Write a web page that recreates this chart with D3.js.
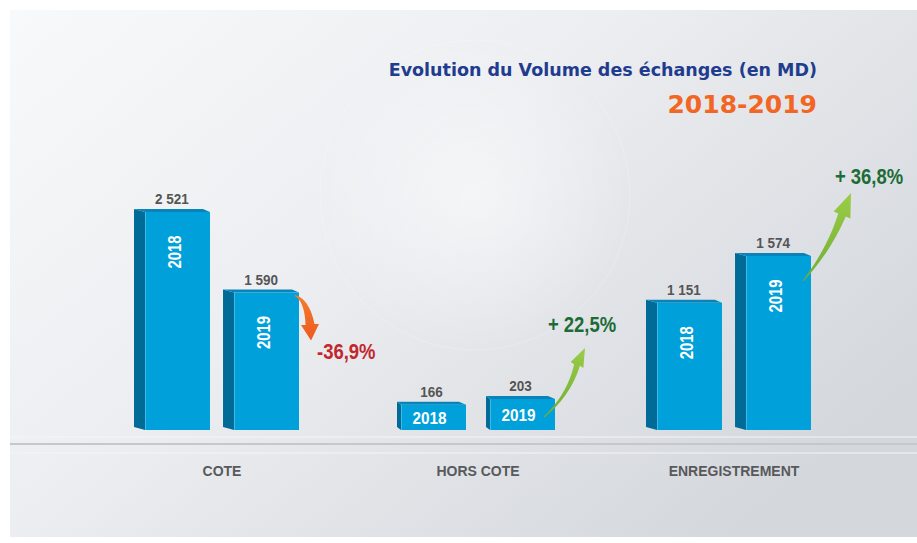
<!DOCTYPE html>
<html>
<head>
<meta charset="utf-8">
<script src="https://cdn.jsdelivr.net/npm/d3@7"></script>
<style>
  body { margin: 0; background: #ffffff; }
  svg { display: block; }
</style>
</head>
<body>
<div id="chart"></div>
<script>
// data
const categories = ["COTE", "HORS COTE", "ENREGISTREMENT"];
const years = ["2018", "2019"];
const volume2018 = [2521, 166, 1151];
const volume2019 = [1590, 203, 1574];
const changeLabels = ["-36,9%", "+ 22,5%", "+ 36,8%"];

const width = 917;
const height = 543;
const baseline = 430;
const groupHeights = [218, 31, 174];   // visual height of the tallest bar of each group
const depths = [11, 4, 11];            // width of the shaded side face
const tilt = 3;

const sans = "'Liberation Sans', Arial, sans-serif";
const wide = "'DejaVu Sans', Verdana, sans-serif";

const fr = d3.formatLocale({ decimal: ",", thousands: "\u00a0", grouping: [3], currency: ["", ""] });
const fmt = fr.format(",d");

const svg = d3.select("#chart")
  .append("svg")
  .attr("width", width)
  .attr("height", height)
  .attr("viewBox", `0 0 ${width} ${height}`);

const defs = svg.append("defs");

const bg = defs.append("linearGradient")
  .attr("id", "bg")
  .attr("x1", 0).attr("y1", 0).attr("x2", 1).attr("y2", 0.7);
bg.append("stop").attr("offset", 0).attr("stop-color", "#f8f9fa");
bg.append("stop").attr("offset", 0.45).attr("stop-color", "#eceef1");
bg.append("stop").attr("offset", 1).attr("stop-color", "#d4d7dc");

const glow = defs.append("radialGradient").attr("id", "glow");
glow.append("stop").attr("offset", 0).attr("stop-color", "#ffffff").attr("stop-opacity", 0.5);
glow.append("stop").attr("offset", 1).attr("stop-color", "#ffffff").attr("stop-opacity", 0);

const greenGrad = defs.append("linearGradient")
  .attr("id", "green")
  .attr("x1", 0).attr("y1", 1).attr("x2", 0).attr("y2", 0);
greenGrad.append("stop").attr("offset", 0).attr("stop-color", "#6fae34");
greenGrad.append("stop").attr("offset", 1).attr("stop-color", "#9ccc46");

const orangeGrad = defs.append("linearGradient")
  .attr("id", "orange")
  .attr("x1", 0).attr("y1", 0).attr("x2", 0).attr("y2", 1);
orangeGrad.append("stop").attr("offset", 0).attr("stop-color", "#f47c30");
orangeGrad.append("stop").attr("offset", 1).attr("stop-color", "#ec5a1f");

// background card
svg.append("rect")
  .attr("x", 10).attr("y", 10)
  .attr("width", width - 10).attr("height", 527)
  .attr("fill", "url(#bg)");

svg.append("circle")
  .attr("cx", 475).attr("cy", 195).attr("r", 155)
  .attr("fill", "url(#glow)");
svg.append("circle")
  .attr("cx", 475).attr("cy", 195).attr("r", 155)
  .attr("fill", "none")
  .attr("stroke", "#ffffff").attr("stroke-opacity", 0.2);

svg.append("line")
  .attr("x1", 10).attr("x2", width)
  .attr("y1", 437).attr("y2", 437)
  .attr("stroke", "#f4f5f7").attr("stroke-width", 1);
svg.append("line")
  .attr("x1", 10).attr("x2", width)
  .attr("y1", 444).attr("y2", 444)
  .attr("stroke", "#c4c7cc").attr("stroke-width", 2);
svg.append("line")
  .attr("x1", 10).attr("x2", width)
  .attr("y1", 453).attr("y2", 453)
  .attr("stroke", "#f4f5f7").attr("stroke-width", 1);

// title
svg.append("text")
  .text("Evolution du Volume des échanges (en MD)")
  .attr("x", 817).attr("y", 76)
  .attr("text-anchor", "end")
  .attr("font-family", wide)
  .attr("font-weight", "bold")
  .attr("font-size", 17.5)
  .attr("fill", "#1f3c8f");

svg.append("text")
  .text("2018-2019")
  .attr("x", 817).attr("y", 113)
  .attr("text-anchor", "end")
  .attr("font-family", wide)
  .attr("font-weight", "bold")
  .attr("font-size", 25)
  .attr("fill", "#f26522");

// scales
const xGroup = d3.scalePoint()
  .domain(categories)
  .range([222, 734]);

const xYear = d3.scaleBand()
  .domain(years)
  .range([-77, 77])
  .paddingInner(0.27);

const yScales = categories.map((c, i) =>
  d3.scaleLinear()
    .domain([0, Math.max(volume2018[i], volume2019[i])])
    .range([0, groupHeights[i]]));

const bars = [];
categories.forEach((c, i) => {
  [volume2018[i], volume2019[i]].forEach((v, j) => {
    const x0 = xGroup(c) + xYear(years[j]);
    const h = yScales[i](v);
    bars.push({ cat: c, ci: i, year: years[j], value: v, x0, w: xYear.bandwidth(), top: baseline - h, h, d: depths[i] });
  });
});

const barG = svg.append("g")
  .selectAll("g.bar")
  .data(bars)
  .join("g")
  .attr("class", "bar");

// side face
barG.append("path")
  .attr("d", b => `M${b.x0 - b.d},${b.top - tilt} L${b.x0},${b.top} L${b.x0},${baseline} L${b.x0 - b.d},${baseline - tilt} Z`)
  .attr("fill", "#006b97");

// top face
barG.append("path")
  .attr("d", b => `M${b.x0 - b.d},${b.top - tilt} L${b.x0 + b.w - 7},${b.top - tilt} L${b.x0 + b.w},${b.top} L${b.x0},${b.top} Z`)
  .attr("fill", "#0a84b8");

// front face
barG.append("rect")
  .attr("x", b => b.x0)
  .attr("y", b => b.top)
  .attr("width", b => b.w)
  .attr("height", b => b.h)
  .attr("fill", "#00a0da");

barG.append("line")
  .attr("x1", b => b.x0 + 0.5).attr("x2", b => b.x0 + 0.5)
  .attr("y1", b => b.top).attr("y2", baseline)
  .attr("stroke", "#3dbbe9").attr("stroke-width", 1);

// value above each bar
barG.append("text")
  .text(b => fmt(b.value))
  .attr("transform", b => `translate(${b.x0 + (b.w - b.d) / 2}, ${b.top - tilt - 5}) scale(0.9, 1)`)
  .attr("text-anchor", "middle")
  .attr("font-family", sans)
  .attr("font-weight", "bold")
  .attr("font-size", 15)
  .attr("fill", "#555555");

// year inside each bar
barG.append("text")
  .text(b => b.year)
  .attr("transform", b => b.h > 50
    ? `translate(${b.x0 + b.w / 2 - 3}, ${b.top + 40}) rotate(-90) scale(0.78, 1)`
    : `translate(${b.x0 + b.w / 2 - 4}, ${b.top + b.h / 2}) scale(0.9, 1)`)
  .attr("text-anchor", "middle")
  .attr("dominant-baseline", "central")
  .attr("font-family", sans)
  .attr("font-weight", "bold")
  .attr("font-size", b => b.h > 50 ? 19 : 17)
  .attr("fill", "#ffffff");

// category labels
svg.append("g")
  .selectAll("text")
  .data(categories)
  .join("text")
  .text(d => d)
  .attr("x", d => xGroup(d))
  .attr("y", 476)
  .attr("text-anchor", "middle")
  .attr("font-family", sans)
  .attr("font-weight", "bold")
  .attr("font-size", 14)
  .attr("fill", "#58595b");

// change arrows, positioned from the 2019 bar's top-right corner
const arrowSpecs = [
  { s: [-4, 3], c: [8, 8], b: [11, 32], t: [12, 48], w0: 1, w1: 9, hw: 9, fill: "url(#orange)",
    label: [18, 66], color: "#c1272d", anchor: "start" },
  { s: [-11, 18], c: [14, -4], b: [22, -34], t: [30, -51], w0: 1, w1: 6, hw: 7, fill: "url(#green)",
    label: [27, -67], color: "#1d6b36", anchor: "middle" },
  { s: [-8, 25], c: [18, -6], b: [31, -41], t: [40, -63], w0: 1, w1: 8, hw: 9, fill: "url(#green)",
    label: [58, -72], color: "#1d6b36", anchor: "middle" }
];

function arrowPath(sp, ox, oy) {
  const S = [ox + sp.s[0], oy + sp.s[1]];
  const C = [ox + sp.c[0], oy + sp.c[1]];
  const B = [ox + sp.b[0], oy + sp.b[1]];
  const T = [ox + sp.t[0], oy + sp.t[1]];
  const n = 20;
  const left = [], right = [];
  for (let k = 0; k <= n; k++) {
    const u = k / n;
    const px = (1 - u) * (1 - u) * S[0] + 2 * u * (1 - u) * C[0] + u * u * B[0];
    const py = (1 - u) * (1 - u) * S[1] + 2 * u * (1 - u) * C[1] + u * u * B[1];
    const dx = 2 * (1 - u) * (C[0] - S[0]) + 2 * u * (B[0] - C[0]);
    const dy = 2 * (1 - u) * (C[1] - S[1]) + 2 * u * (B[1] - C[1]);
    const len = Math.hypot(dx, dy) || 1;
    const nx = -dy / len, ny = dx / len;
    const hw = (sp.w0 + (sp.w1 - sp.w0) * u) / 2;
    left.push([px + nx * hw, py + ny * hw]);
    right.push([px - nx * hw, py - ny * hw]);
  }
  const dx = T[0] - B[0], dy = T[1] - B[1];
  const len = Math.hypot(dx, dy);
  const nx = -dy / len, ny = dx / len;
  const pts = [
    ...left,
    [B[0] + nx * sp.hw, B[1] + ny * sp.hw],
    T,
    [B[0] - nx * sp.hw, B[1] - ny * sp.hw],
    ...right.reverse()
  ];
  return "M" + pts.map(p => p.join(",")).join("L") + "Z";
}

const arrowG = svg.append("g");
categories.forEach((c, i) => {
  const b = bars.find(d => d.cat === c && d.year === "2019");
  const sp = arrowSpecs[i];
  arrowG.append("path")
    .attr("d", arrowPath(sp, b.x0 + b.w, b.top))
    .attr("fill", sp.fill);
  arrowG.append("text")
    .text(changeLabels[i])
    .attr("transform", `translate(${b.x0 + b.w + sp.label[0]}, ${b.top + sp.label[1]}) scale(0.84, 1)`)
    .attr("text-anchor", sp.anchor)
    .attr("font-family", sans)
    .attr("font-weight", "bold")
    .attr("font-size", 22)
    .attr("fill", sp.color);
});
</script>
</body>
</html>
